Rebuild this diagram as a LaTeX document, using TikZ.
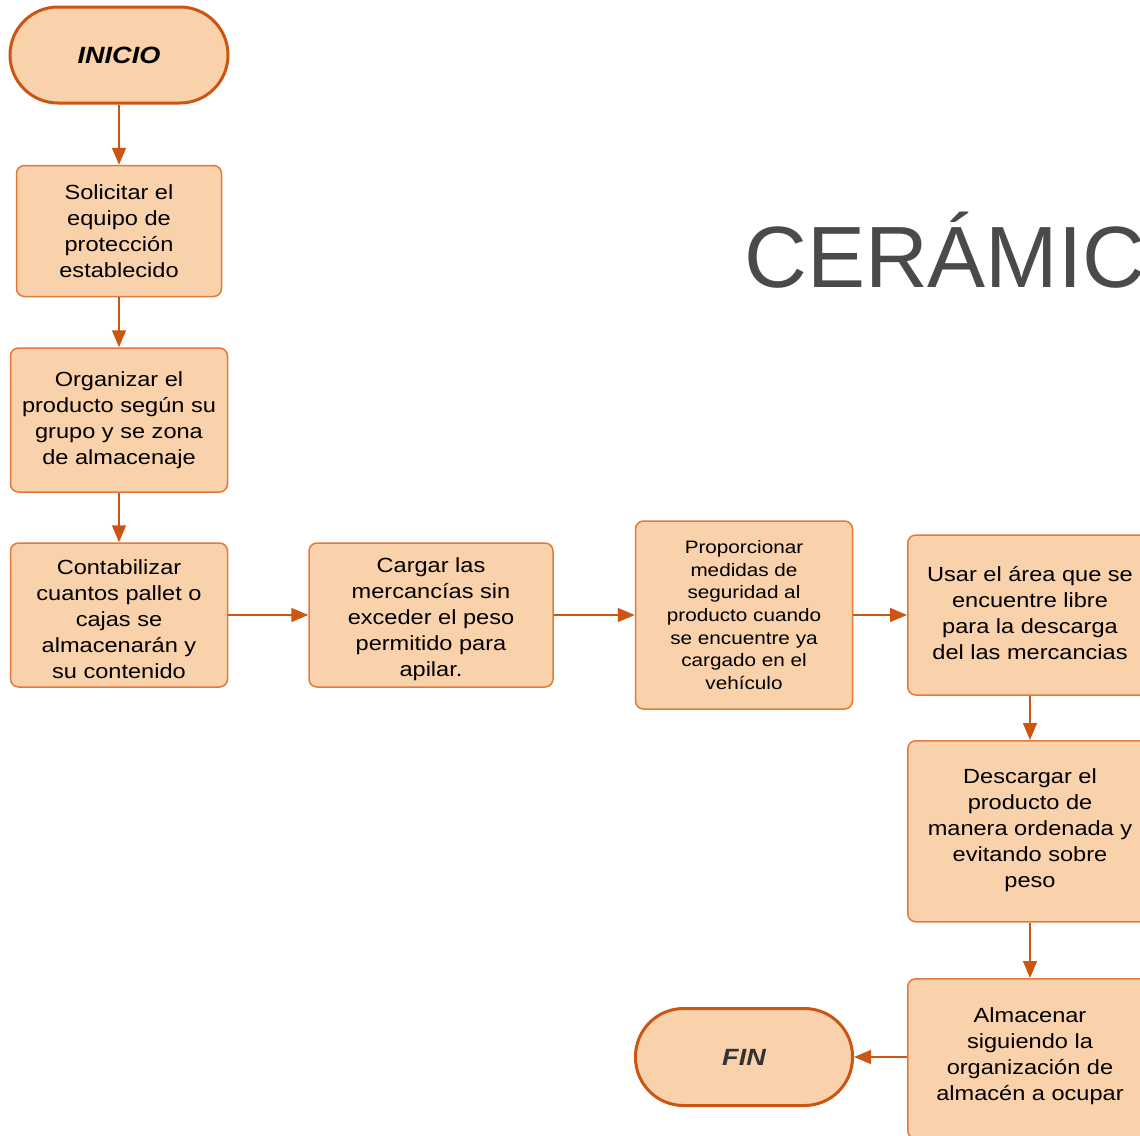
\documentclass[tikz,border=0pt]{standalone}
\usepackage{fontspec}
\setmainfont[FakeStretch=1.15]{Liberation Sans}
\newfontfamily\titlefont{Liberation Sans}
\usetikzlibrary{arrows.meta}
\definecolor{boxfill}{RGB}{249,209,170}
\definecolor{boxline}{RGB}{226,122,60}
\definecolor{termline}{RGB}{204,85,18}
\definecolor{arrowcol}{RGB}{204,85,18}
\definecolor{titlegray}{RGB}{74,74,74}
\definecolor{fintext}{RGB}{51,51,51}
\tikzset{
  procbox/.style={draw=boxline, fill=boxfill, line width=1.5pt, rounded corners=8pt,
    align=center, inner sep=0pt, font=\fontsize{20.5}{26}\selectfont},
  plaintext/.style={align=center, inner sep=0pt, font=\fontsize{20.5}{26}\selectfont},
  smallbox/.style={procbox, font=\fontsize{18}{22.7}\selectfont},
  termbox/.style={draw=termline, fill=boxfill, line width=3pt, rounded corners=48pt,
    align=center, inner sep=0pt, font=\fontsize{23.5}{26}\selectfont\bfseries\itshape},
  flow/.style={draw=arrowcol, line width=1.5pt, -{Triangle[length=17pt,width=14pt]}}
}
\begin{document}
\begin{tikzpicture}[x=1pt,y=-1pt]
\useasboundingbox (0,0) rectangle (1140,1135);
\clip (0,0) rectangle (1140,1135);
\fill[white] (0,0) rectangle (1140,1135);

\node[anchor=base west, inner sep=0pt, text=titlegray, font=\titlefont\fontsize{87}{87}\selectfont] (title) at (744,287) {CERÁMICA};

\node[termbox, minimum width=218pt, minimum height=96pt] (inicio) at (119,55) {INICIO};
\node[procbox, minimum width=205pt, minimum height=131pt] (solicitar) at (119,231)
  {Solicitar el\\equipo de\\protección\\establecido};
\node[procbox, minimum width=217pt, minimum height=144pt] (organizar) at (119,420)
  {Organizar el\\producto según su\\grupo y se zona\\de almacenaje};
\node[procbox, minimum width=217pt, minimum height=144pt] (contab) at (119,615) {};
\node[plaintext] (contabtext) at (119,619)
  {Contabilizar\\cuantos pallet o\\cajas se\\almacenarán y\\su contenido};
\node[procbox, minimum width=244pt, minimum height=144pt] (cargar) at (431,615) {};
\node[plaintext] (cargartext) at (431,619)
  {Cargar las\\mercancías sin\\exceder el peso\\permitido para\\apilar.};
\node[smallbox, minimum width=217pt, minimum height=188pt] (proporc) at (744,615)
  {Proporcionar\\medidas de\\seguridad al\\producto cuando\\se encuentre ya\\cargado en el\\vehículo};
\node[procbox, minimum width=246pt, minimum height=160pt, anchor=west] (usar) at (907,615) {};
\node[plaintext] (usartext) at (1030,613)
  {Usar el área que se\\encuentre libre\\para la descarga\\del las mercancias};
\node[procbox, minimum width=246pt, minimum height=181pt, anchor=north west] (descargar) at (907,740) {};
\node[plaintext] (descargartext) at (1030,830)
  {Descargar el\\producto de\\manera ordenada y\\evitando sobre\\peso};
\node[procbox, minimum width=246pt, minimum height=160pt, anchor=north west] (almacenar) at (907,978) {};
\node[plaintext] (almacenartext) at (1030,1056)
  {Almacenar\\siguiendo la\\organización de\\almacén a ocupar};
\node[termbox, minimum width=217pt, minimum height=97pt, text=fintext] (fin) at (744,1057) {FIN};

\draw[flow] (inicio.south) -- (solicitar.north);
\draw[flow] (solicitar.south) -- (organizar.north);
\draw[flow] (organizar.south) -- (contab.north);
\draw[flow] (contab.east) -- (cargar.west);
\draw[flow] (cargar.east) -- (proporc.west);
\draw[flow] (proporc.east) -- (usar.west);
\draw[flow] (usar.south -| usartext) -- (descargar.north -| usartext);
\draw[flow] (descargar.south -| usartext) -- (almacenar.north -| usartext);
\draw[flow] (almacenar.west |- fin) -- (fin.east);
\end{tikzpicture}
\end{document}
